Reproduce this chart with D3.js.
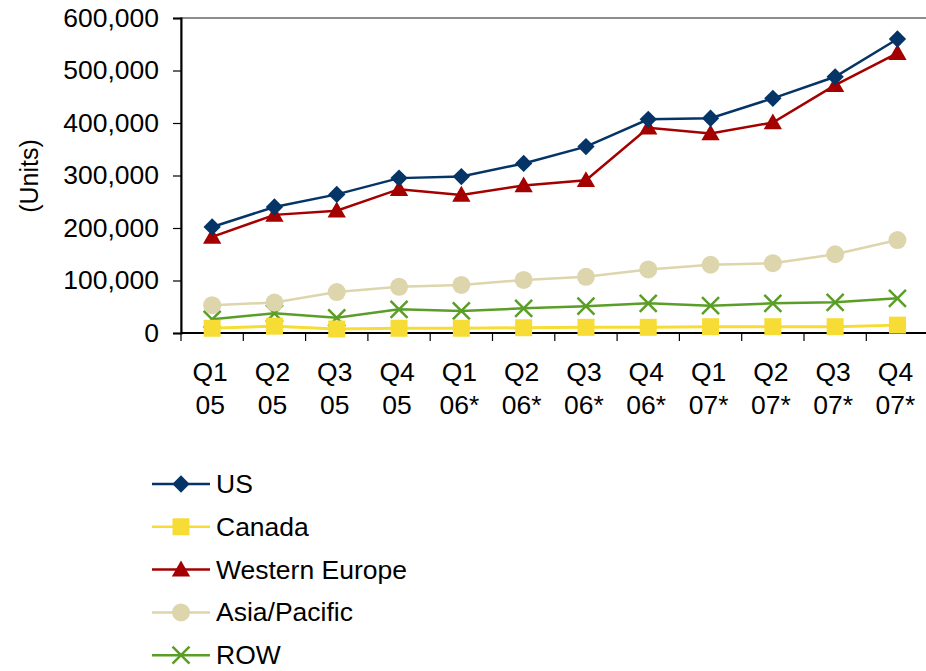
<!DOCTYPE html>
<html>
<head>
<meta charset="UTF-8">
<script src="https://d3js.org/d3.v7.min.js"></script>
<style>
  body { margin: 0; background: #fff; }
  svg text { font-family: "Liberation Sans", Arial, sans-serif; font-size: 25px; fill: #000; }
</style>
</head>
<body>
<svg id="chart" width="926" height="671"></svg>
<script>
// quarters, two-line labels
const quarters = ["Q1|05", "Q2|05", "Q3|05", "Q4|05", "Q1|06*", "Q2|06*", "Q3|06*", "Q4|06*", "Q1|07*", "Q2|07*", "Q3|07*", "Q4|07*"];
const yTicks = [0, 100000, 200000, 300000, 400000, 500000, 600000];

const us = [202000, 240000, 264000, 295000, 298000, 323000, 355000, 407000, 409000, 447000, 488000, 560000];
const canada = [9000, 13000, 7600, 9000, 9000, 10000, 10800, 10800, 12000, 12000, 12000, 15000];
const westernEurope = [183000, 225000, 233000, 274000, 263000, 281000, 291000, 391000, 380000, 401000, 472000, 533000];
const asiaPacific = [53000, 58000, 78000, 88000, 91500, 101000, 107000, 121000, 130000, 133000, 150000, 177000];
const row = [26000, 37500, 29000, 45000, 42000, 47000, 51000, 56500, 52000, 56500, 58500, 66000];

const series = [
  { name: "US", values: us, color: "#053466", symbol: "diamond" },
  { name: "Canada", values: canada, color: "#f7dc35", symbol: "square" },
  { name: "Western Europe", values: westernEurope, color: "#a50000", symbol: "triangle" },
  { name: "Asia/Pacific", values: asiaPacific, color: "#ddd5ac", symbol: "circle" },
  { name: "ROW", values: row, color: "#5a9e28", symbol: "x" }
];

const sx = 1.06; // text is a bit wide in the original

const svg = d3.select("#chart");
const left = 181;
const plotW = 62.3 * quarters.length;

const x = d3.scaleBand().domain(quarters).range([left, left + plotW]);
const y = d3.scaleLinear().domain([0, 600000]).range([333, 18]);

// plot frame (gray top/right)
svg.append("rect")
  .attr("x", left).attr("y", y(600000))
  .attr("width", plotW).attr("height", y(0) - y(600000))
  .attr("fill", "none").attr("stroke", "#8c8c8c").attr("stroke-width", 2);

// y axis
const yAxis = svg.append("g")
  .attr("transform", `translate(${left},0)`)
  .call(d3.axisLeft(y).tickValues(yTicks).tickSize(8).tickPadding(14).tickFormat(d3.format(",")));
yAxis.attr("font-size", null).attr("font-family", null);
yAxis.select(".domain").attr("stroke", "#000").attr("stroke-width", 2);
yAxis.selectAll(".tick line").attr("stroke", "#000").attr("stroke-width", 1.2);
yAxis.selectAll("text")
  .attr("x", -22 / sx)
  .attr("transform", `scale(${sx},1)`);

// x axis with ticks at category boundaries
const xAxis = svg.append("g").attr("transform", `translate(0,${y(0)})`);
xAxis.append("line")
  .attr("x1", left).attr("x2", left + plotW)
  .attr("stroke", "#000").attr("stroke-width", 2);
xAxis.selectAll(".bt")
  .data(quarters.concat(["end"]))
  .enter().append("line")
  .attr("x1", (d, i) => left + i * x.bandwidth())
  .attr("x2", (d, i) => left + i * x.bandwidth())
  .attr("y1", 0).attr("y2", 8)
  .attr("stroke", "#000").attr("stroke-width", 1.2);
const xl = xAxis.selectAll(".xl")
  .data(quarters)
  .enter().append("g")
  .attr("transform", d => `translate(${x(d) + x.bandwidth() / 2 - 2},0) scale(${sx},1)`);
xl.append("text").attr("y", 48).attr("text-anchor", "middle").text(d => d.split("|")[0]);
xl.append("text").attr("y", 81).attr("text-anchor", "middle").text(d => d.split("|")[1]);

// y title
svg.append("text")
  .attr("transform", `translate(38,176) rotate(-90) scale(1,${sx})`)
  .attr("text-anchor", "middle")
  .text("(Units)");

const line = d3.line()
  .x((d, i) => x(quarters[i]) + x.bandwidth() / 2)
  .y(d => y(d));

function drawMarker(g, s, cx, cy) {
  if (s.symbol === "x") {
    const r = 8.5;
    g.append("path")
      .attr("d", `M${cx - r},${cy - r}L${cx + r},${cy + r}M${cx - r},${cy + r}L${cx + r},${cy - r}`)
      .attr("stroke", s.color).attr("stroke-width", 2.5).attr("fill", "none");
  } else if (s.symbol === "diamond") {
    g.append("path")
      .attr("d", d3.symbol(d3.symbolSquare, 150)())
      .attr("transform", `translate(${cx},${cy}) rotate(45)`)
      .attr("fill", s.color);
  } else {
    const sym = { square: d3.symbolSquare, triangle: d3.symbolTriangle, circle: d3.symbolCircle }[s.symbol];
    const size = { square: 289, triangle: 145, circle: 254 }[s.symbol];
    const dy = s.symbol === "triangle" ? 1.5 : 0;
    g.append("path")
      .attr("d", d3.symbol(sym, size)())
      .attr("transform", `translate(${cx},${cy + dy})`)
      .attr("fill", s.color);
  }
}

// draw in reverse so US is on top
series.slice().reverse().forEach(s => {
  const g = svg.append("g");
  g.append("path")
    .datum(s.values)
    .attr("d", line)
    .attr("fill", "none")
    .attr("stroke", s.color)
    .attr("stroke-width", s.name === "Canada" ? 3 : 2.5);
  s.values.forEach((v, i) => drawMarker(g, s, x(quarters[i]) + x.bandwidth() / 2, y(v)));
});

// legend
const legend = svg.append("g");
series.forEach((s, i) => {
  const ly = 484 + i * 42.8;
  const g = legend.append("g");
  g.append("line")
    .attr("x1", 152).attr("x2", 210).attr("y1", ly).attr("y2", ly)
    .attr("stroke", s.color).attr("stroke-width", 2.5);
  drawMarker(g, s, 181, ly);
  g.append("text")
    .attr("transform", `translate(216,${ly}) scale(${sx},1)`)
    .attr("dy", "0.36em")
    .text(s.name);
});
</script>
</body>
</html>
